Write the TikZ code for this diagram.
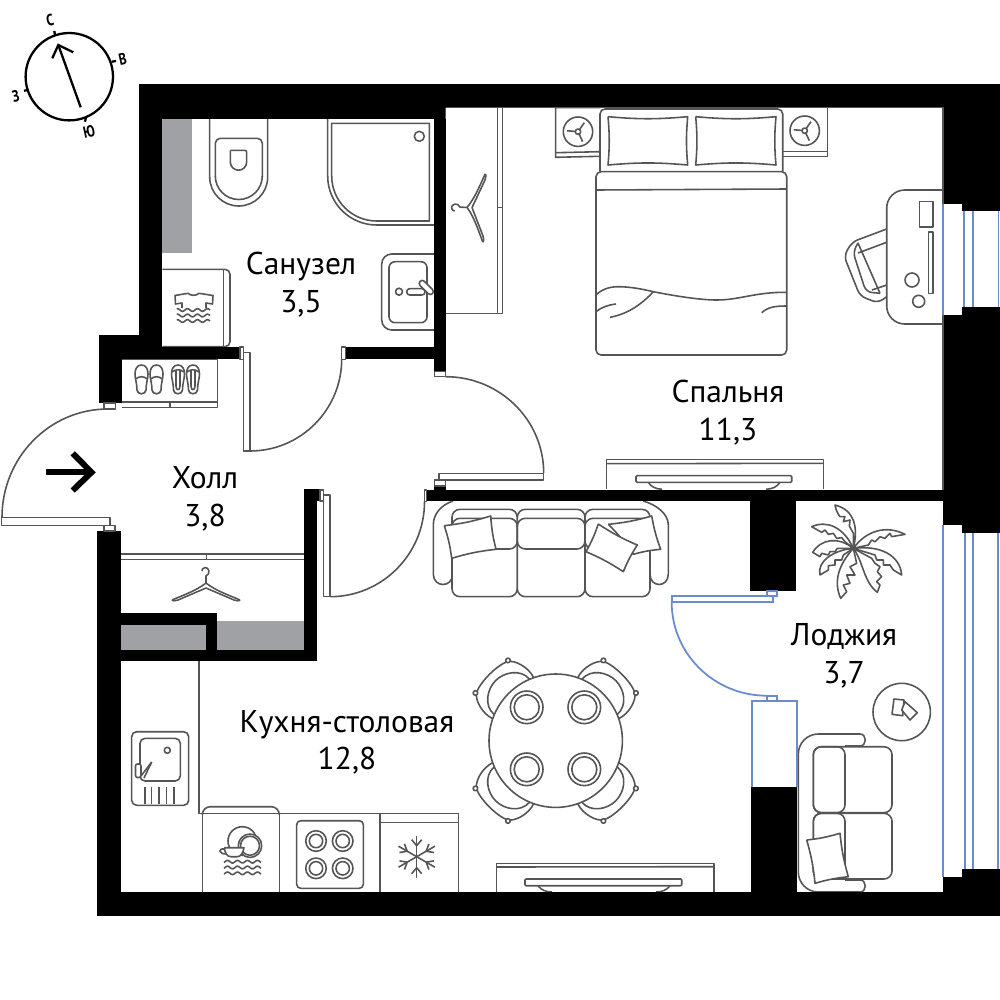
\documentclass[tikz,border=0pt]{standalone}
\usepackage{fontspec}
\setmainfont{PT Sans}
\definecolor{linegray}{RGB}{85,85,85}
\definecolor{shaftgray}{RGB}{160,161,164}
\definecolor{glassblue}{RGB}{105,140,205}
\tikzset{
    wall/.style={fill=black,draw=none},
    shaft/.style={fill=shaftgray,draw=none},
    ln/.style={draw=linegray,line width=0.45pt,line join=round},
    glass/.style={draw=glassblue,line width=0.5pt},
    roomlabel/.style={align=center,inner sep=0pt,font=\fontsize{8.95}{10.7}\selectfont},
    sidelabel/.style={inner sep=0pt,font=\fontsize{4.6}{5}\selectfont\bfseries}
}
\newcommand{\pillow}[4]{\draw[ln,fill=white] (#1) to[bend right=5] (#2) to[bend right=5] (#3) to[bend right=5] (#4) to[bend right=5] (#1);}
\newcommand{\ripples}[3]{\foreach \wy in {#3}{\draw[ln] plot[domain=#1:#2,samples=40] (\x,{\wy+1.3*sin(\x*36)});}}
\newcommand{\hanger}{
    \draw[ln] (-34,0) .. controls (-25,-4) and (-10,-9) .. (0,-17) .. controls (10,-9) and (25,-4) .. (34,0);
    \draw[ln] (-34,0) .. controls (-34,1) and (-30,1) .. (-28,0) -- (0,-12) -- (28,0) .. controls (30,1) and (34,1) .. (34,0);
    \draw[ln] (0,-17) -- (0,-24) .. controls (5,-26) and (3,-33) .. (-1,-32.5) .. controls (-3,-32) and (-4,-31) .. (-4,-29);
}
\newcommand{\slipper}{
    \draw[ln] (0,0) .. controls (4.5,0) and (6.5,4) .. (6.5,9) .. controls (6.5,14) and (4.5,18) .. (4.5,25) .. controls (4.5,30) and (-4.5,30) .. (-4.5,25) .. controls (-4.5,18) and (-6.5,14) .. (-6.5,9) .. controls (-6.5,4) and (-4.5,0) .. (0,0);
}
\begin{document}
\begin{tikzpicture}[x=0.01cm,y=-0.01cm]
    \useasboundingbox (0,0) rectangle (1000,1000);
    \fill[white] (0,0) rectangle (1000,1000);

    % Shafts
    \fill[shaft] (162.3,119) rectangle (192,253);
    \fill[shaft] (121,625) rectangle (206,650);
    \fill[shaft] (217,621.3) rectangle (304.3,650);

    % Bathroom: toilet
    \draw[ln] (209.7,119) -- (209.7,177) arc (180:0:29) -- (267.7,119);
    \draw[ln,rounded corners=0.05cm] (262.3,177) -- (262.3,138.3) -- (215.3,138.3) -- (215.3,177);
    \draw[ln] (215.3,176) arc (180:0:23.5);
    \draw[ln,rounded corners=0.02cm] (230.3,150.3) -- (246.7,150.3) -- (246.7,162);
    \draw[ln] (246.7,162) arc (0:180:8.2) -- (230.3,150.3);

    % Bathroom: shower
    \draw[ln] (327.7,119) -- (327.7,176) arc (180:90:49) -- (434,225);
    \draw[ln] (331.7,123.3) -- (429.3,123.3) -- (429.3,221) -- (376.7,221) arc (90:180:45) -- cycle;
    \draw[ln] (419.3,136.3) circle (5);

    % Bathroom: basin
    \draw[ln,rounded corners=0.1cm] (434,254) -- (381.7,254) -- (381.7,330) -- (434,330);
    \draw[ln,rounded corners=0.06cm] (389,261.7) rectangle (427,322.7);
    \draw[ln] (399,291.7) circle (3.5);
    \draw[ln,fill=white,rounded corners=0.03cm] (406.7,288.7) rectangle (425,295);
    \draw[ln,fill=white,rounded corners=0.03cm,rotate around={-45:(426.3,287.5)}] (417.5,284.5) rectangle (435,290.5);

    % Bathroom: washing machine
    \draw[ln,rounded corners=0.05cm] (162.3,269.3) -- (230,269.3) -- (230,346.7) -- (162.3,346.7);
    \draw[ln] (223.3,269.3) -- (223.3,346.7);
    \draw[ln] (182,308) -- (182,303) -- (175.5,304) -- (175,295.5) -- (188,293.3) .. controls (191,296) and (196,296) .. (199,293.3) -- (213,295.5) -- (212.5,304) -- (206,303) -- (206,308);
    \ripples{176.7}{210}{310,315.5,321}

    % Wardrobe by the bedroom
    \draw[ln] (445.7,107.7) -- (497.7,107.7) -- (497.7,313.3) -- (445.7,313.3);
    \draw[ln] (497.7,107.7) -- (502.7,107.7) -- (502.7,313.3) -- (497.7,313.3);
    \draw[ln] (497.7,207.7) -- (502.7,207.7);
    \begin{scope}[shift={(484,208)},rotate=88]
        \hanger
    \end{scope}

    % Bedroom: nightstands and lamps
    \draw[ln] (600,107.7) -- (555.7,107.7) -- (555.7,157.3) -- (600,156.3);
    \draw[ln] (555.7,152.7) -- (600,151.7);
    \draw[ln] (782.7,107.7) -- (827.3,107.7) -- (827.3,156.3) -- (782.7,156.3);
    \draw[ln] (782.7,151.3) -- (827.3,151.3);
    \foreach \lx/\ly in {578/131.7,804.7/130.7}{
        \draw[ln] (\lx,\ly) circle (14.7);
        \draw[ln] (\lx,\ly) circle (2.7);
        \foreach \ang in {175,55,295}{
            \begin{scope}[shift={(\lx,\ly)},rotate=\ang]
                \draw[ln] (2.7,0) -- (11,0);
            \end{scope}
        }
    }

    % Bedroom: bed
    \draw[ln,rounded corners=0.05cm] (600,171.7) -- (600,109) -- (782.7,109) -- (782.7,171.7);
    \pillow{608,116.7}{687.7,116.7}{687.7,165}{608,165}
    \pillow{695.7,116.7}{776,116.7}{776,165}{695.7,165}
    \draw[ln,fill=white,rounded corners=0.05cm] (596,171.7) rectangle (786.7,355);
    \draw[ln] (596,190) -- (786.7,189);
    \draw[ln] (596,295) .. controls (602,289) and (610,286.7) .. (618,286.7) .. controls (630,286.7) and (642,289) .. (653.3,291.7) .. controls (675,296) and (700,300) .. (716.7,300) .. controls (740,300) and (755,292) .. (786.7,292.3);
    \draw[ln] (596,311.7) .. controls (602,307) and (608,305) .. (616,304);
    \draw[ln] (610,317.3) .. controls (628,314) and (642,304) .. (653.3,291.7);
    \draw[ln] (761.7,312.7) .. controls (768,307) and (775,306) .. (786.7,306);

    % Bedroom: desk and chair
    \draw[ln,rounded corners=0.18cm] (943,190) -- (886.7,190) -- (886.7,324) -- (943,324);
    \draw[ln] (919.3,201.7) rectangle (932.7,227);
    \draw[ln] (928.3,232) rectangle (932.7,293.3);
    \draw[ln] (912,280) circle (7);
    \draw[ln] (918.7,301.3) circle (6);
    \draw[ln,rounded corners=0.06cm] (886.7,229) -- (852,242) -- (844,256) -- (860,296) -- (878,303) -- (886.7,296.7);
    \draw[ln] (886.7,242.3) -- (858,253);
    \draw[ln,rounded corners=0.06cm] (858,243) -- (853,252) -- (866,292) -- (880,293.3);
    \draw[ln] (858,243) -- (880,293.3);
    \draw[ln] (886.7,285) -- (872,290);

    % Bedroom: tv stand
    \draw[ln] (606.7,489.3) -- (606.7,459.3) -- (823.3,459.3) -- (823.3,489.3);
    \draw[ln] (606.7,463.7) -- (823.3,463.3);
    \draw[ln] (648.3,482.3) .. controls (651,487) and (656,489) .. (662,489.3);
    \draw[ln] (780,482.3) .. controls (777,487) and (772,489) .. (766,489.3);
    \draw[ln,rounded corners=0.01cm] (636,475.7) rectangle (791.7,482.3);

    % Hall: shoe cabinet
    \draw[ln] (122.3,359.3) -- (217.7,359.3) -- (217.7,407.3) -- (122.3,407.3);
    \draw[ln] (122.3,402) -- (217.7,402);
    \draw[ln] (170,402) -- (170,407.3);
    \foreach \sx in {141.5,156.5}{
        \begin{scope}[shift={(\sx,365)}]
            \slipper
            \draw[ln] (-6,14) .. controls (-2,11) and (2,11) .. (6,14);
        \end{scope}
    }
    \foreach \sx in {178,193}{
        \begin{scope}[shift={(\sx,365)}]
            \slipper
            \draw[ln] (-6,7) .. controls (-2,4) and (2,4) .. (6,7);
            \draw[ln] (-2,6) -- (-2,21) .. controls (-2,26) and (2,26) .. (2,21) -- (2,6);
        \end{scope}
    }

    % Hall: closet
    \draw[ln] (121,554) -- (304.3,554);
    \draw[ln] (121,559.3) -- (304.3,559.3);
    \draw[ln] (206.7,554) -- (206.7,559.3);
    \begin{scope}[shift={(206,600)}]
        \hanger
    \end{scope}

    % Kitchen
    \draw[ln] (199,661.3) -- (199,813.3) -- (458.3,813.3) -- (458.3,892);
    \draw[ln,rounded corners=0.08cm] (202.3,813.3) -- (202.3,806.7) -- (279.3,806.7) -- (279.3,813.3);
    \draw[ln] (202.3,813.3) -- (202.3,892);
    \draw[ln] (279.3,813.3) -- (279.3,892);
    \draw[ln] (380,813.3) -- (380,892);
    \draw[ln] (380,822.3) -- (458.3,822.3);
    \draw[ln,rounded corners=0.04cm] (296.7,820.7) rectangle (363.3,888.3);
    \foreach \rx in {316,342.7}{
        \foreach \ry in {841,868.3}{
            \draw[ln] (\rx,\ry) circle (10.3);
            \draw[ln] (\rx,\ry) circle (6.7);
        }
    }

    % Kitchen: dishwasher icon
    \draw[ln] (242.3,841) circle (14.3);
    \draw[ln,fill=white] (250,845.7) circle (11.7);
    \draw[ln] (250,845.7) circle (9.5);
    \draw[ln,fill=white] (224.3,847.7) -- (244,847.7) .. controls (243,853) and (241,856.7) .. (237,856.7) -- (231,856.7) .. controls (227,856.7) and (225,853) .. (224.3,847.7);
    \draw[ln] (224.5,849) .. controls (218,848) and (218,854) .. (226.5,854);
    \ripples{224}{261}{861.7,867.5,873.3}

    % Kitchen: fridge snowflake
    \foreach \ang in {30,90,...,330}{
        \begin{scope}[shift={(416.7,856.7)},rotate=\ang]
            \draw[ln] (0,0) -- (21,0);
            \draw[ln] (11,0) -- (17,5);
            \draw[ln] (11,0) -- (17,-5);
        \end{scope}
    }

    % Kitchen: sink
    \draw[ln,rounded corners=0.05cm] (131.7,731.7) rectangle (188.7,805.3);
    \draw[ln,rounded corners=0.05cm] (140,738.3) rectangle (180.3,781);
    \draw[ln] (167.3,750.3) circle (3);
    \foreach \gx in {145,151.7,158.8,166.7,174}{
        \draw[ln] (\gx,786.7) -- (\gx,804.3);
    }
    \draw[ln] (141,776) -- (151.7,762);
    \draw[ln] (144,778) -- (151.7,762);
    \draw[ln,fill=white,rounded corners=0.02cm] (135.5,764) rectangle (141,777.5);

    % Kitchen: tv stand
    \draw[ln] (496.7,892) -- (496.7,863.3) -- (713.7,863.3) -- (713.7,892);
    \draw[ln] (496.7,867) -- (713.7,866.7);
    \draw[ln] (538,885.7) .. controls (541,890) and (546,892) .. (552,892);
    \draw[ln] (670,885.7) .. controls (667,890) and (662,892) .. (656,892);
    \draw[ln,rounded corners=0.01cm] (525,879) rectangle (681.7,885.7);

    % Kitchen: sofa
    \draw[ln] (453,501) .. controls (441,505) and (433.3,514) .. (433.3,525) -- (433.3,574) .. controls (433.3,588) and (452.7,588) .. (452.7,574);
    \draw[ln] (643.3,501) .. controls (657,505) and (668.3,514) .. (668.3,525) -- (668.3,574) .. controls (668.3,588) and (650,588) .. (650,574);
    \foreach \cl/\cr in {452/517.3,517.3/585,585/650}{
        \draw[ln,fill=white,rounded corners=0.08cm] (\cl,509.3) rectangle (\cr,596.7);
        \draw[ln,rounded corners=0.08cm] (\cl,518.3) rectangle (\cr,549);
    }
    \pillow{444.3,525.7}{490.7,516}{496,549.3}{451.7,558.3}
    \pillow{608.3,524.3}{651.7,516}{660.7,549.3}{633.3,554.3}
    \pillow{598.3,524}{637.3,545}{623.3,571.7}{586,551.7}

    % Kitchen: table and chairs
    \foreach \ang in {45,135,225,315}{
        \begin{scope}[shift={(555.7,740.7)},rotate=\ang]
            \draw[ln] (60,-29) .. controls (72,-33) and (86,-28) .. (90,-22) .. controls (95,-12) and (95,12) .. (90,22) .. controls (86,28) and (72,33) .. (60,29);
            \draw[ln] (62,-25) .. controls (76,-26) and (85,-12) .. (85,0) .. controls (85,12) and (76,26) .. (62,25);
            \draw[ln,fill=white] (90.5,-23) circle (2.3);
            \draw[ln,fill=white] (90.5,23) circle (2.3);
        \end{scope}
    }
    \draw[ln,fill=white] (555.7,740.7) circle (66.7);
    \foreach \px in {526.7,584.3}{
        \foreach \py in {707.3,769.3}{
            \draw[ln] (\px,\py) circle (16.3);
            \draw[ln] (\px,\py) circle (12.5);
        }
    }

    % Loggia: plant, one path for each frond
    \begin{scope}[shift={(800,495)},scale=1/3]
        \draw[ln,fill=white] (160,160) .. controls (200,105) and (260,90) .. (315,118) -- (275,125) -- (270,115) -- (255,130) -- (240,125) -- (225,140) -- (215,135) -- (205,150) -- cycle;
        \draw[ln,fill=white] (160,160) .. controls (175,100) and (165,45) .. (105,30) .. controls (108,45) and (112,55) .. (120,65) -- (135,65) -- (130,80) -- (150,75) -- (148,93) -- (160,115) -- cycle;
        \draw[ln,fill=white] (160,160) .. controls (130,95) and (80,75) .. (35,95) -- (65,112) -- (75,105) -- (85,118) -- (100,115) -- (110,130) -- (125,128) -- (135,140) -- cycle;
        \draw[ln,fill=white] (160,160) .. controls (115,125) and (65,130) .. (38,172) -- (60,185) -- (65,175) -- (85,180) -- (90,170) -- (105,170) -- (112,160) -- cycle;
        \draw[ln,fill=white] (160,160) .. controls (240,150) and (300,180) .. (305,240) -- (280,225) -- (270,210) -- (250,210) -- (250,195) -- (230,195) -- (225,180) -- cycle;
        \draw[ln,fill=white] (160,160) .. controls (100,165) and (50,200) .. (60,240) -- (85,225) -- (85,212) -- (105,210) -- (105,195) -- (125,195) -- (130,180) -- cycle;
        \draw[ln,fill=white] (160,160) .. controls (190,200) and (190,260) .. (232,292) -- (240,270) -- (230,260) -- (245,245) -- (232,230) -- (240,215) -- (225,205) -- (215,190) -- cycle;
        \draw[ln,fill=white] (160,160) .. controls (115,210) and (100,260) .. (122,310) -- (140,290) -- (130,270) -- (150,265) -- (140,240) -- (165,240) -- (150,215) -- (170,205) -- cycle;
    \end{scope}

    % Loggia: sofa and small table
    \draw[ln,rounded corners=0.2cm] (860,734) -- (798.3,734) -- (798.3,892) -- (860,892);
    \draw[ln] (860,734) .. controls (867,734) and (867,746) .. (860,746) -- (845,746);
    \draw[ln] (860,892) .. controls (867,892) and (867,880) .. (860,880) -- (845,880);
    \draw[ln,fill=white,rounded corners=0.08cm] (813.3,746.7) rectangle (892,812.7);
    \draw[ln,fill=white,rounded corners=0.08cm] (813.3,813.3) rectangle (892,879);
    \draw[ln,rounded corners=0.08cm] (813.3,746.7) rectangle (845,812.7);
    \draw[ln,rounded corners=0.08cm] (813.3,813.3) rectangle (845,879);
    \pillow{806.7,840}{840,833.3}{848.3,876.7}{815,883.3}
    \draw[ln] (901.7,712) circle (28.7);
    \draw[ln,fill=white] (894,699) -- (904,700) -- (902.7,715.7) -- (892,714.3) -- cycle;
    \draw[ln,fill=white] (905,701.7) -- (917.3,712.7) -- (910,720) -- (901.7,710) -- cycle;

    % Walls
    \fill[wall] (139,84) rectangle (1000,107.7);
    \fill[wall] (139,107.7) rectangle (445.7,119);
    \fill[wall] (139,119) rectangle (162.3,347);
    \fill[wall] (99,335) rectangle (162.3,359.3);
    \fill[wall] (99,359) rectangle (122.3,402.7);
    \fill[wall] (122,347) rectangle (240,359.3);
    \fill[wall] (345.7,347) rectangle (434,359.3);
    \fill[wall] (434,119) rectangle (445.7,371.7);
    \fill[wall] (943,107) rectangle (1000,204.3);
    \fill[wall] (962.3,204) rectangle (1000,211);
    \fill[wall] (943,315) rectangle (1000,525);
    \fill[wall] (962.3,307.3) rectangle (1000,315.3);
    \fill[wall] (962.3,524.7) rectangle (1000,532.7);
    \fill[wall] (943,876.7) rectangle (1000,916);
    \fill[wall] (962.3,869) rectangle (1000,877);
    \fill[wall] (426.7,489.5) rectangle (943,501.3);
    \fill[wall] (434,486) rectangle (445.5,490);
    \fill[wall] (750,501) rectangle (796,591);
    \fill[wall] (750.7,787) rectangle (796.7,892.5);
    \fill[wall] (97.3,531) rectangle (121,916);
    \fill[wall] (97.3,892.3) rectangle (1000,916);
    \fill[wall] (121,613.3) rectangle (217,625);
    \fill[wall] (205.7,613) rectangle (217,650);
    \fill[wall] (121,649.7) rectangle (316.7,661.3);
    \fill[wall] (304.3,489.3) rectangle (316.7,661);
    \fill[wall] (304.3,489.3) rectangle (320,501);

    % Room outlines between the walls
    \draw[ln] (445.7,107.7) -- (942.7,107.7) -- (942.7,204.3);
    \draw[ln] (942.7,315) -- (942.7,489.5);
    \draw[ln] (445.7,107.7) -- (445.7,119);

    % Entrance door
    \draw[ln] (104,403) rectangle (115.7,409);
    \draw[ln] (2,517.3) arc (180:270:106 and 108.3);
    \draw[ln] (1.7,517.3) rectangle (110,525.7);
    \draw[ln] (104,525.7) rectangle (115,531);

    % Bathroom door
    \draw[ln] (240,347) rectangle (243.7,359.3);
    \draw[ln] (243.3,352.7) rectangle (250,451);
    \draw[ln] (250,451) arc (90:0:91.7 and 92);
    \draw[ln] (341.7,347) rectangle (345.7,359.3);

    % Bedroom door
    \draw[ln] (434.3,371.7) rectangle (445.7,376.7);
    \draw[ln] (445.7,376.7) arc (-90:0:98 and 96.5);
    \draw[ln] (439,473.3) rectangle (543.7,480);
    \draw[ln] (434.5,480) rectangle (445.5,486);

    % Kitchen door
    \draw[ln] (424.3,490) rectangle (426.7,501.7);
    \draw[ln] (424.5,501.7) arc (0:90:94.5 and 95);
    \draw[ln] (323.3,495) rectangle (330,596.7);
    \draw[ln] (320,490) rectangle (323.5,501);

    % Loggia door
    \draw[glass] (767,591) rectangle (777.3,595.7);
    \draw[glass] (671.7,595.7) rectangle (772.7,602.3);
    \draw[glass] (671.7,602.3) arc (180:90:95 and 93.4);
    \draw[glass] (767,695.7) rectangle (777.3,700.7);
    \draw[glass] (751.7,787) -- (751.7,700.7) -- (796.7,700.7) -- (796.7,787);

    % Windows
    \draw[glass] (943,204.3) -- (943,315);
    \foreach \gx in {964.3,973,998.5}{
        \draw[glass] (\gx,211) -- (\gx,307.3);
    }
    \draw[glass] (943,525) -- (943,876.7);
    \foreach \gx in {964.7,972.7,998}{
        \draw[glass] (\gx,532.7) -- (\gx,869);
    }

    % Entrance arrow
    \draw[line width=1.7pt] (46,472.3) -- (90,472.3);
    \draw[line width=1.7pt] (72.7,453.3) -- (91.5,472.3) -- (72.7,490.5);

    % Compass
    \draw[line width=0.65pt] (69.3,76.7) circle (43.7);
    \draw[line width=0.65pt] (80.7,107.3) -- (58.3,45);
    \draw[line width=0.65pt] (52.3,58.3) -- (58.3,45) -- (73.3,52.3);
    \draw[line width=0.65pt] (54.3,31) -- (55,35);
    \draw[line width=0.65pt] (111.7,61.7) -- (116,61);
    \draw[line width=0.65pt] (24,90.7) -- (28.7,90);
    \draw[line width=0.65pt] (86,117.3) -- (85,121.7);
    \node[rotate=12,sidelabel] (north) at (50,20.7) {\scalebox{0.8}[1]{С}};
    \node[rotate=12,sidelabel] (east) at (122.7,58.7) {\scalebox{0.8}[1]{В}};
    \node[rotate=12,sidelabel] (west) at (15.7,96) {\scalebox{0.8}[1]{З}};
    \node[rotate=12,sidelabel] (south) at (89,131.7) {\scalebox{0.8}[1]{Ю}};

    % Room labels
    \node[roomlabel] (bath) at (301,284.5) {Санузел\\3,5};
    \node[roomlabel] (bedroom) at (728,412.5) {Спальня\\11,3};
    \node[roomlabel] (hall) at (205,499) {Холл\\3,8};
    \node[roomlabel] (kitchen) at (347,742.5) {Кухня-столовая\\12,8};
    \node[roomlabel] (loggia) at (844,656) {Лоджия\\3,7};
\end{tikzpicture}
\end{document}
